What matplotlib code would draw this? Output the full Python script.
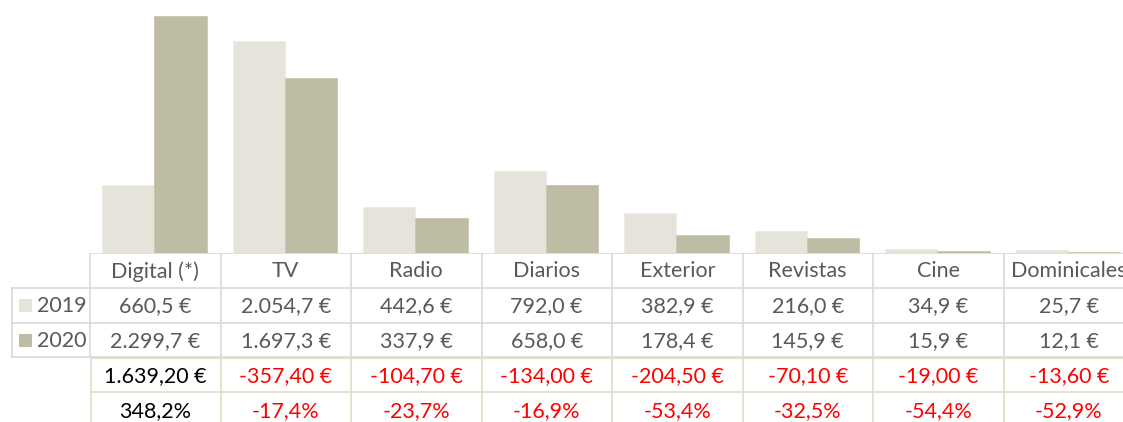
import numpy as np
import matplotlib
matplotlib.use("Agg")
import matplotlib.pyplot as plt

# data
categories = ["Digital (*)", "TV", "Radio", "Diarios", "Exterior", "Revistas", "Cine", "Dominicales"]
years = ["2019", "2020"]
values_2019 = [660.5, 2054.7, 442.6, 792.0, 382.9, 216.0, 34.9, 25.7]
values_2020 = [2299.7, 1697.3, 337.9, 658.0, 178.4, 145.9, 15.9, 12.1]
labels_2019 = ["660,5 €", "2.054,7 €", "442,6 €", "792,0 €", "382,9 €", "216,0 €", "34,9 €", "25,7 €"]
labels_2020 = ["2.299,7 €", "1.697,3 €", "337,9 €", "658,0 €", "178,4 €", "145,9 €", "15,9 €", "12,1 €"]
diff_labels = ["1.639,20 €", "-357,40 €", "-104,70 €", "-134,00 €", "-204,50 €", "-70,10 €", "-19,00 €", "-13,60 €"]
diff_values = [1639.20, -357.40, -104.70, -134.00, -204.50, -70.10, -19.00, -13.60]
pct_labels = ["348,2%", "-17,4%", "-23,7%", "-16,9%", "-53,4%", "-32,5%", "-54,4%", "-52,9%"]

c2019 = "#e6e3db"
c2020 = "#bfbca6"
grid_c = "#d9d9d9"
beige = "#e2dcc8"
txt_c = "#595959"

plt.rcParams["font.family"] = ["Lato", "DejaVu Sans"]

W, H = 1123, 422
fig = plt.figure(figsize=(W / 100, H / 100), dpi=100)

# x mapping: category width 130.5 px, category -0.5 edge at 90 px
cw = 130.5
x0 = -0.5 - 90 / cw
x1 = x0 + W / cw
base_px = 253

ax = fig.add_axes([0, (H - base_px) / H, 1, base_px / H])
x = np.arange(len(categories))
bw = 0.4
ax.bar(x - bw / 2 - 0.006, values_2019, bw, color=c2019, edgecolor="#eeece6", linewidth=0.6)
ax.bar(x + bw / 2 - 0.006, values_2020, bw, color=c2020, edgecolor="#c8c5b0", linewidth=0.6)
ax.set_xlim(x0, x1)
ax.set_ylim(0, base_px / 0.1032)
ax.axis("off")

# table axes, y in pixels from base line downward
tb = fig.add_axes([0, 0, 1, (H - base_px) / H])
tb.set_xlim(x0, x1)
tb.set_ylim(H - base_px, 0)
tb.axis("off")

rh = 34.8
rows = [i * rh for i in range(6)]
left_lab = -0.5 - 78 / cw

# grey table grid
tb.plot([-0.5, 8], [rows[0], rows[0]], color=grid_c, lw=1.2)
for r in rows[1:4]:
    tb.plot([left_lab, 8], [r, r], color=grid_c, lw=1.2)
tb.plot([left_lab, left_lab], [rows[1], rows[3]], color=grid_c, lw=1.2)
for i in range(9):
    tb.plot([i - 0.5, i - 0.5], [rows[0], rows[3]], color=grid_c, lw=1.2)

# beige extra rows
tb.plot([-0.5 + 1 / cw, 8], [rows[4], rows[4]], color=beige, lw=1.2)
tb.plot([-0.5 + 1 / cw, 8], [rows[3] + 0.8, rows[3] + 0.8], color=beige, lw=0.8)
for i in range(9):
    xe = i - 0.5 + (1 / cw if i == 0 else 0)
    tb.plot([xe, xe], [rows[3] + 1, rows[5]], color=beige, lw=1.2)

fs = 15.5
for i, cat in enumerate(categories):
    tb.text(i, rows[0] + rh / 2 + 1, cat, ha="center", va="center", fontsize=fs, color=txt_c)
    tb.text(i, rows[1] + rh / 2 + 1, labels_2019[i], ha="center", va="center", fontsize=fs, color=txt_c)
    tb.text(i, rows[2] + rh / 2 + 1, labels_2020[i], ha="center", va="center", fontsize=fs, color=txt_c)
    col = "black" if diff_values[i] >= 0 else "#ff0000"
    tb.text(i, rows[3] + rh / 2 + 1, diff_labels[i], ha="center", va="center", fontsize=fs, color=col)
    tb.text(i, rows[4] + rh / 2 + 1, pct_labels[i], ha="center", va="center", fontsize=fs, color=col)

# legend keys in row labels
for k, (yr, c) in enumerate(zip(years, [c2019, c2020])):
    yc = rows[k + 1] + rh / 2
    tb.add_patch(plt.Rectangle((19 / cw + x0, yc - 6.5), 13 / cw, 13, color=c, lw=0))
    tb.text(37 / cw + x0, yc + 1, yr, ha="left", va="center", fontsize=fs, color=txt_c)

fig.savefig("out.png", dpi=100)
